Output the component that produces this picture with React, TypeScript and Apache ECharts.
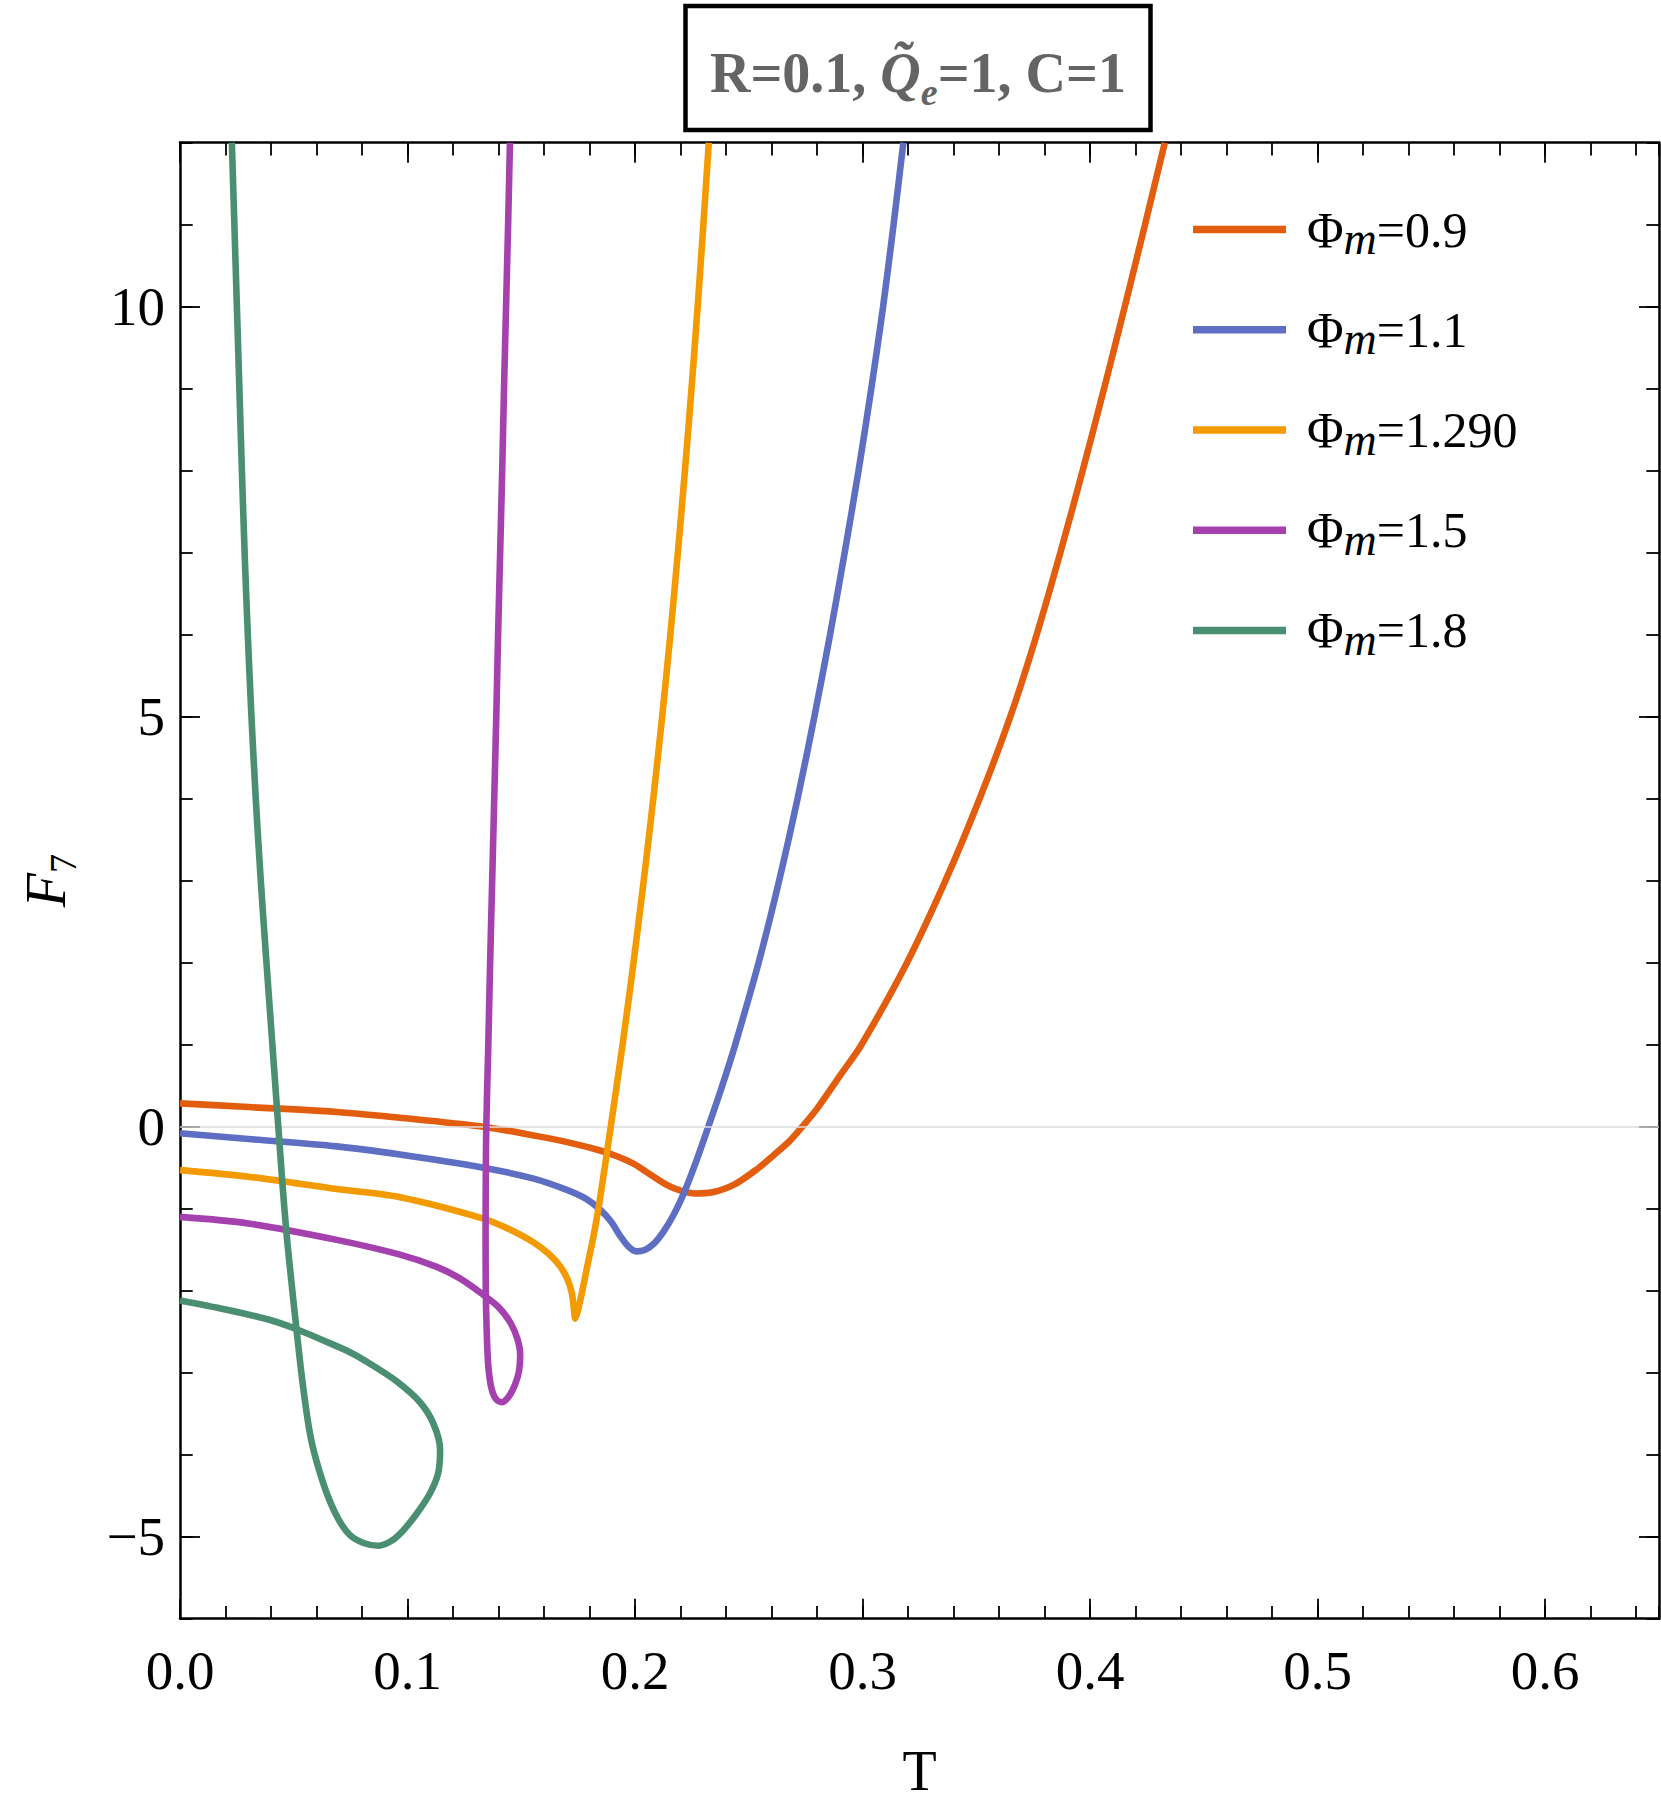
import React, { useEffect, useRef } from "react";
import * as echarts from "echarts";

const SERIF = "'Liberation Serif', 'Times New Roman', serif";

const phiValues = ["0.9", "1.1", "1.290", "1.5", "1.8"];
const seriesColors = ["#E35D0E", "#5E6FC3", "#F29A00", "#A441AE", "#4B8F72"];

// [T, F7] pairs, in curve order
const phi09: number[][] = [
  [0, 0.285], [0.03, 0.24], [0.0689, 0.18], [0.0967, 0.11], [0.1333, 0.0], [0.157, -0.115],
  [0.172, -0.2], [0.1846, -0.29], [0.192, -0.36], [0.1993, -0.45], [0.2065, -0.58],
  [0.2139, -0.71], [0.22, -0.78], [0.2265, -0.815], [0.234, -0.8], [0.2433, -0.71],
  [0.253, -0.53], [0.2608, -0.35], [0.2681, -0.17], [0.2735, 0], [0.28, 0.22], [0.29, 0.62],
  [0.2995, 1], [0.3195, 2], [0.3364, 3], [0.3514, 4], [0.3649, 5], [0.3765, 6], [0.3869, 7],
  [0.3967, 8], [0.4061, 9], [0.4152, 10], [0.4241, 11], [0.4328, 12],
];
const phi11: number[][] = [
  [0, -0.08], [0.03, -0.15], [0.0689, -0.24], [0.0967, -0.34], [0.1333, -0.5], [0.155, -0.63],
  [0.17, -0.77], [0.1785, -0.88], [0.1846, -1.01], [0.1895, -1.16], [0.1934, -1.33],
  [0.197, -1.46], [0.2005, -1.52], [0.2045, -1.5], [0.2085, -1.42], [0.2125, -1.28],
  [0.217, -1.07], [0.2213, -0.82], [0.2265, -0.45], [0.2322, 0], [0.2382, 0.49], [0.244, 1],
  [0.2543, 2], [0.2633, 3], [0.2714, 4], [0.2788, 5], [0.2857, 6], [0.2921, 7], [0.2982, 8],
  [0.3038, 9], [0.309, 10], [0.3136, 11], [0.3179, 12],
];
const phi129: number[][] = [
  [0, -0.53], [0.03, -0.61], [0.0689, -0.76], [0.0967, -0.86], [0.1333, -1.12], [0.1455, -1.26],
  [0.1553, -1.41], [0.162, -1.55], [0.167, -1.7], [0.1703, -1.86], [0.1722, -2.03],
  [0.1731, -2.22], [0.1737, -2.34], [0.1748, -2.25], [0.1766, -2.03], [0.179, -1.7],
  [0.1817, -1.34], [0.184, -0.98], [0.186, -0.62], [0.1893, 0], [0.1945, 1], [0.1993, 2],
  [0.2038, 3], [0.208, 4], [0.2119, 5], [0.2155, 6], [0.2188, 7], [0.2219, 8], [0.2248, 9],
  [0.2275, 10], [0.23, 11], [0.2324, 12],
];
const phi15: number[][] = [
  [0, -1.1], [0.03, -1.18], [0.0689, -1.38], [0.0967, -1.56], [0.1128, -1.71], [0.123, -1.85],
  [0.1333, -2.05], [0.14, -2.2], [0.145, -2.38], [0.1482, -2.58], [0.1495, -2.78],
  [0.149, -2.98], [0.1473, -3.14], [0.1445, -3.29], [0.1414, -3.36], [0.1388, -3.32],
  [0.1368, -3.18], [0.1355, -2.92], [0.1348, -2.5], [0.1344, -2.0], [0.1343, -1.3],
  [0.1344, -0.6], [0.1346, 0], [0.1355, 1], [0.1363, 2], [0.1372, 3], [0.1381, 4],
  [0.139, 5], [0.1398, 6], [0.1407, 7], [0.1416, 8], [0.1424, 9], [0.1433, 10],
  [0.1442, 11], [0.145, 12],
];
const phi18: number[][] = [
  [0, -2.12], [0.02, -2.23], [0.04, -2.36], [0.0513, -2.47], [0.065, -2.63], [0.0747, -2.75],
  [0.0835, -2.89], [0.095, -3.1], [0.1055, -3.36], [0.1115, -3.63], [0.1143, -3.94],
  [0.1135, -4.22], [0.1099, -4.47], [0.104, -4.72], [0.0982, -4.92], [0.093, -5.05],
  [0.0872, -5.11], [0.081, -5.08], [0.0747, -4.98], [0.0695, -4.78], [0.0645, -4.47],
  [0.06, -4.08], [0.0571, -3.74], [0.054, -3.15], [0.0513, -2.5], [0.049, -1.9],
  [0.0468, -1.3], [0.0449, -0.65], [0.0432, 0], [0.0406, 1], [0.038, 2], [0.0355, 3],
  [0.0333, 4], [0.0314, 5], [0.0298, 6], [0.0284, 7], [0.0272, 8], [0.0261, 9], [0.025, 10],
  [0.0239, 11], [0.0228, 12],
];
const curves = [phi09, phi11, phi129, phi15, phi18];

const xMajorTicks = [0, 0.1, 0.2, 0.3, 0.4, 0.5, 0.6];
const yMajorTicks = [-5, 0, 5, 10];
const xMin = 0, xMax = 0.65, xMinorStep = 0.02;
const yMin = -6, yMax = 12, yMinorStep = 1;

export default function App() {
  const ref = useRef<HTMLDivElement>(null);
  useEffect(() => {
    document.body.style.margin = "0";
    const chart = echarts.init(ref.current!, null, { renderer: "svg" });
    const black = "#000";
    const lineW = 2.5;
    const tickW = 1.8;
    const minorLen = 12.7;
    const majorLen = 20;

    const xAxisCommon = { type: "value", min: xMin, max: xMax, splitLine: { show: false } };
    const yAxisCommon = { type: "value", min: yMin, max: yMax, splitLine: { show: false } };

    const minorX = (position: string) => ({
      ...xAxisCommon,
      position,
      interval: xMinorStep,
      axisLine: { show: true, onZero: false, lineStyle: { color: black, width: lineW } },
      axisTick: { show: true, inside: true, length: minorLen, lineStyle: { color: black, width: tickW } },
      axisLabel: { show: false },
    });
    const majorX = (position: string, labels: boolean) => ({
      ...xAxisCommon,
      position,
      axisLine: { show: false, onZero: false },
      axisTick: { show: true, inside: true, length: majorLen, customValues: xMajorTicks, lineStyle: { color: black, width: tickW } },
      axisLabel: {
        show: labels,
        customValues: xMajorTicks,
        formatter: (v: number) => v.toFixed(1),
        fontSize: 55,
        fontFamily: SERIF,
        color: black,
        margin: 24,
      },
    });
    const minorY = (position: string) => ({
      ...yAxisCommon,
      position,
      interval: yMinorStep,
      axisLine: { show: true, onZero: false, lineStyle: { color: black, width: lineW } },
      axisTick: { show: true, inside: true, length: minorLen, lineStyle: { color: black, width: tickW } },
      axisLabel: { show: false },
    });
    const majorY = (position: string, labels: boolean) => ({
      ...yAxisCommon,
      position,
      axisLine: { show: false, onZero: false },
      axisTick: { show: true, inside: true, length: majorLen, customValues: yMajorTicks, lineStyle: { color: black, width: tickW } },
      axisLabel: {
        show: labels,
        customValues: yMajorTicks,
        formatter: (v: number) => (v < 0 ? "\u2212" + Math.abs(v) : String(v)),
        fontSize: 55,
        fontFamily: SERIF,
        color: black,
        margin: 15,
      },
    });

    const option: any = {
      animation: false,
      backgroundColor: "#fff",
      title: {
        text: "{r|R=0.1, }{q|Q\u0303}{e|e}{r|=1, C=1}",
        left: 685,
        top: 6,
        padding: [19.5, 25, 19.5, 25],
        borderColor: black,
        borderWidth: 4.5,
        textStyle: {
          rich: {
            r: { fontSize: 56, fontWeight: "bold", fontFamily: SERIF, color: "#646464", lineHeight: 56, padding: [19, 0, 0, 0], verticalAlign: "top" },
            q: { fontSize: 56, fontWeight: "bold", fontStyle: "italic", fontFamily: SERIF, color: "#646464", lineHeight: 56, padding: [19, 0, 0, 0], verticalAlign: "top" },
            e: { fontSize: 38, fontWeight: "bold", fontStyle: "italic", fontFamily: SERIF, color: "#646464", lineHeight: 38, padding: [47, 0, 0, 0], verticalAlign: "top" },
          },
        },
      },
      legend: {
        data: phiValues,
        orient: "vertical",
        left: 1188,
        top: 199.6,
        icon: "rect",
        itemWidth: 93,
        itemHeight: 7.5,
        itemGap: 43.2,
        selectedMode: false,
        formatter: (name: string) => `{p|\u03A6}{m|m}{v|=${name}}`,
        textStyle: {
          rich: {
            p: { fontSize: 50, fontFamily: SERIF, color: black, lineHeight: 50, padding: [0, 0, 6, 16], verticalAlign: "top" },
            m: { fontSize: 46, fontStyle: "italic", fontFamily: SERIF, color: black, lineHeight: 46, padding: [11, 0, 0, 0], verticalAlign: "top" },
            v: { fontSize: 50, fontFamily: SERIF, color: black, lineHeight: 50, padding: [0, 0, 6, 0], verticalAlign: "top" },
          },
        },
      },
      grid: { left: 180, right: 2, top: 142.7, bottom: 190.3, containLabel: false },
      xAxis: [
        minorX("bottom"),
        {
          ...majorX("bottom", true),
          name: "T",
          nameLocation: "middle",
          nameGap: 124,
          nameTextStyle: { fontFamily: SERIF, fontSize: 56, color: black },
        },
        minorX("top"),
        majorX("top", false),
      ],
      yAxis: [
        minorY("left"),
        {
          ...majorY("left", true),
          name: "{f|F}{s|7}",
          nameLocation: "middle",
          nameGap: 106,
          nameTextStyle: {
            rich: {
              f: { fontSize: 56, fontStyle: "italic", fontFamily: SERIF, color: black, lineHeight: 56, verticalAlign: "top" },
              s: { fontSize: 38, fontFamily: SERIF, color: black, lineHeight: 38, padding: [26, 0, 0, 0], verticalAlign: "top" },
            },
          },
        },
        minorY("right"),
        majorY("right", false),
      ],
      series: [
        {
          type: "line",
          name: "__zero",
          data: [],
          xAxisIndex: 0,
          yAxisIndex: 0,
          silent: true,
          z: 1,
          markLine: {
            silent: true,
            symbol: ["none", "none"],
            label: { show: false },
            lineStyle: { color: "#dcdcdc", width: 1.5, type: "solid" },
            data: [{ yAxis: 0 }],
          },
        },
        ...curves.map((d, i) => ({
          type: "line",
          name: phiValues[i],
          data: d,
          xAxisIndex: 0,
          yAxisIndex: 0,
          showSymbol: false,
          symbol: "none",
          smooth: 0.3,
          clip: true,
          z: 3 + i,
          lineStyle: { color: seriesColors[i], width: 6.6 },
          itemStyle: { color: seriesColors[i] },
        })),
      ],
    };
    chart.setOption(option);
    return () => chart.dispose();
  }, []);
  return <div ref={ref} style={{ width: 1661, height: 1809 }} />;
}
